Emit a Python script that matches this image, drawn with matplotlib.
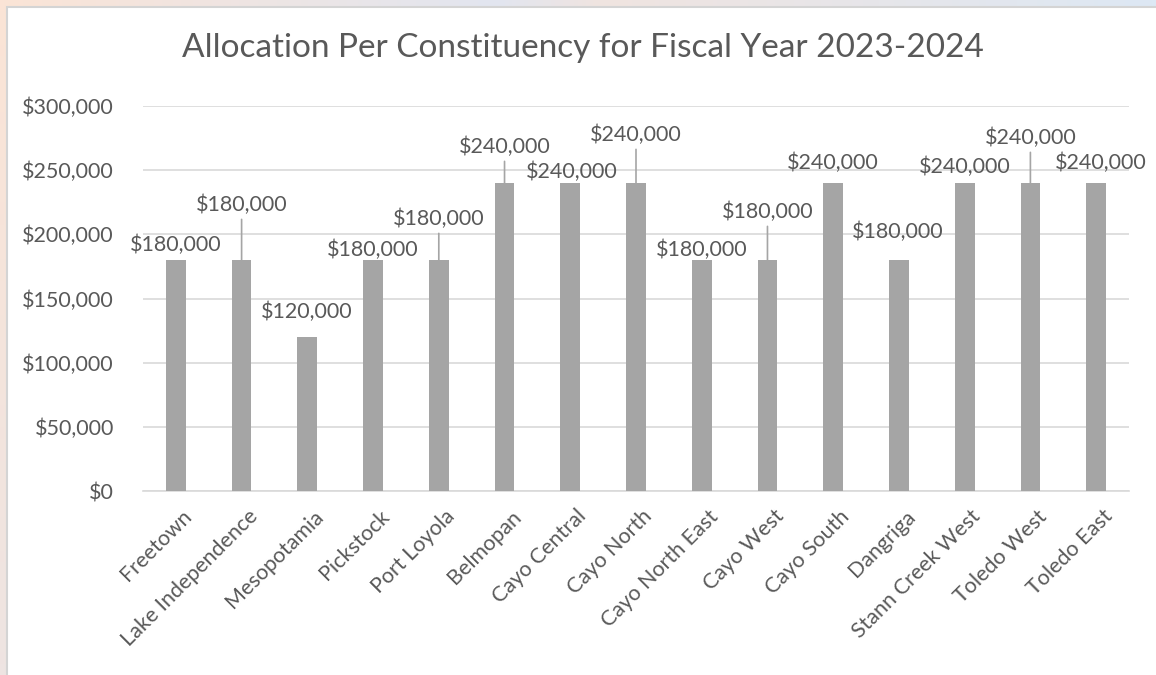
import matplotlib.pyplot as plt
from matplotlib.patches import Rectangle
from matplotlib.transforms import ScaledTranslation
import numpy as np

# data
constituencies = ["Freetown", "Lake Independence", "Mesopotamia", "Pickstock",
                  "Port Loyola", "Belmopan", "Cayo Central", "Cayo North",
                  "Cayo North East", "Cayo West", "Cayo South", "Dangriga",
                  "Stann Creek West", "Toledo West", "Toledo East"]
allocations = [180000, 180000, 120000, 180000, 180000, 240000, 240000, 240000,
               180000, 180000, 240000, 180000, 240000, 240000, 240000]
y_ticks = [0, 50000, 100000, 150000, 200000, 250000, 300000]
title = "Allocation Per Constituency for Fiscal Year 2023-2024"

# label placement (pixel offsets from bar top) and which get leader lines
label_dx = [0, 0, -1, 0, 0, 0, 2, 0, 0, 0, 0, -1, 0, 0, 5]
label_dy = [15, 55, 25, 10, 41, 36, 11, 48, 10, 48, 20, 28, 16, 45, 20]
leader = [False, True, False, False, True, True, False, True,
          False, True, False, False, False, True, False]

FONT = ['Lato', 'DejaVu Sans']
TXT = '#595959'
BAR = '#a5a5a5'
GRID = '#d9d9d9'

plt.rcParams['font.family'] = FONT

W, H = 1156, 675
fig = plt.figure(figsize=(W / 100, H / 100), dpi=100)

# background gradient frame
bg = fig.add_axes([0, 0, 1, 1])
bg.set_axis_off()
xs = np.linspace(0, 1, 300)
stops_x = [0.0, 0.43, 0.52, 1.0]
c_top = np.array([[251, 228, 214], [226, 230, 240], [240, 228, 224], [221, 232, 244]]) / 255
c_bot = np.array([[238, 228, 226], [221, 232, 244]]) / 255
grad = np.zeros((60, 300, 3))
for k in range(3):
    row = np.interp(xs, stops_x, c_top[:, k])
    bottom_val = np.interp(xs, [0, 1], c_bot[:, k])
    for j in range(60):
        t = j / 59
        grad[j, :, k] = row * (1 - t) + bottom_val * t
bg.imshow(grad, aspect='auto', extent=[0, 1, 0, 1], origin='upper')
bg.set_xlim(0, 1)
bg.set_ylim(0, 1)
bg.add_patch(Rectangle((7 / W, -0.05), 1.1, 1 - 7 / H + 0.05,
                       facecolor='white', edgecolor='#d4d4d4', linewidth=1.5))

ax = fig.add_axes([143 / W, 184 / H, (1129 - 143) / W, (491 - 106) / H])
ax.patch.set_alpha(0)
x = np.arange(len(constituencies))
ax.bar(x, allocations, width=0.30, color=BAR, zorder=3)

ax.set_xlim(-0.5, len(constituencies) - 0.5)
ax.set_ylim(0, 300000)
ax.set_yticks(y_ticks)
ax.set_yticklabels([f"${v:,.0f}" for v in y_ticks])
ax.set_xticks(x)
ax.set_xticklabels(constituencies, rotation=45, ha='right', rotation_mode='anchor')
ax.tick_params(axis='both', length=0, labelsize=15.5, colors=TXT)
ax.tick_params(axis='y', pad=21)
ax.tick_params(axis='x', pad=11)
# nudge rotated labels right, as in the original
shift = ScaledTranslation(6 / 100, 0, fig.dpi_scale_trans)
for lbl in ax.get_xticklabels():
    lbl.set_transform(lbl.get_transform() + shift)
ax.grid(axis='y', color=GRID, linewidth=1.2, zorder=0)
for s in ['top', 'right', 'left']:
    ax.spines[s].set_visible(False)
ax.spines['bottom'].set_color(GRID)
ax.spines['bottom'].set_linewidth(1.2)

for i, v in enumerate(allocations):
    arrow = dict(arrowstyle='-', color=BAR, lw=1.2, shrinkA=1, shrinkB=0,
                 relpos=(0.5, 0)) if leader[i] else None
    ax.annotate(f"${v:,.0f}", xy=(i, v), xytext=(label_dx[i], label_dy[i]),
                textcoords='offset pixels', ha='center', va='center',
                fontsize=15.5, color=TXT, arrowprops=arrow, zorder=4,
                annotation_clip=False)

fig.text(583 / W, 1 - 48 / H, title, ha='center', va='center', fontsize=24, color=TXT)

fig.savefig('out.png', dpi=100)
